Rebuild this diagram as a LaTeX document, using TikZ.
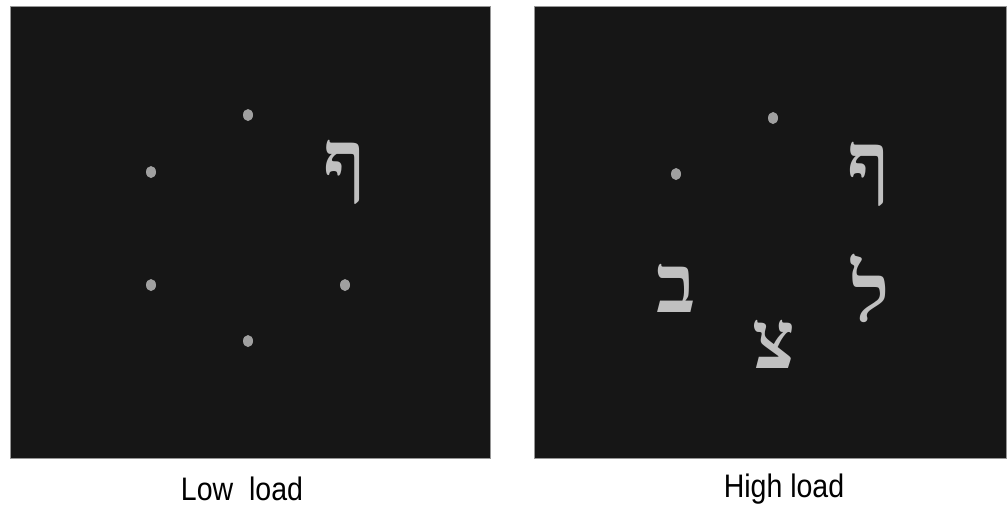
\documentclass[tikz,border=0pt]{standalone}
\usepackage{fontspec}
\setmainfont{Liberation Sans}
\newfontfamily\hebfont[Script=Hebrew]{Liberation Serif}
\TeXXeTstate=1
\usetikzlibrary{shapes.geometric,positioning}
\definecolor{panelbg}{RGB}{22,22,22}
\definecolor{rimgray}{RGB}{150,150,150}
\definecolor{dotgray}{RGB}{160,160,160}
\definecolor{lettergray}{RGB}{192,192,192}
\tikzset{
	panel/.style   = {rectangle,draw=rimgray,line width=0.8pt,fill=panelbg,
		inner sep=0pt,anchor=north west},
	fixdot/.style  = {ellipse,fill=dotgray,minimum width=10pt,
		minimum height=12pt,inner sep=0pt},
	hebl/.style    = {inner sep=0pt,text=lettergray,
		font=\hebfont\bfseries\fontsize{82}{82}\selectfont},
	caption/.style = {anchor=base,inner sep=0pt,
		font=\fontsize{31}{31}\selectfont},
}

\begin{document}
\begin{tikzpicture}[x=1pt,y=-1pt]
	\useasboundingbox (0,0) rectangle (1008,507);
	%% Panneaux
	\node (lowp)  [panel,minimum width=480pt,minimum height=452pt] at (10,6) {};
	\node (highp) [panel,minimum width=472pt,minimum height=452pt] at (534,6) {};
	
	%% Faible charge
	\foreach \n/\x/\y in {ltop/248/115,lul/151/172,lll/151/285,llr/345/285,lbot/248/341}
	\node (\n) [fixdot] at (\x,\y) {};
	\node (lpe) [hebl] at (345,172) {\beginR ף\endR};
	
	%% Forte charge
	\foreach \n/\x/\y in {htop/773/118,hul/676/174}
	\node (\n) [fixdot] at (\x,\y) {};
	\node (hpe)  [hebl] at (869,174) {\beginR ף\endR};
	\node (hbet) [hebl] at (676,288) {\beginR ב\endR};
	\node (hlam) [hebl] at (871,288) {\beginR ל\endR};
	\node (htsa) [hebl] at (774,344) {\beginR צ\endR};
	
	%% Legendes
	\node (lowc)  [caption] at (242,500) {\scalebox{0.92}[1.05]{Low\ \ load}};
	\node (highc) [caption] at (784,497) {\scalebox{0.92}[1.05]{High load}};
\end{tikzpicture}
\end{document}
